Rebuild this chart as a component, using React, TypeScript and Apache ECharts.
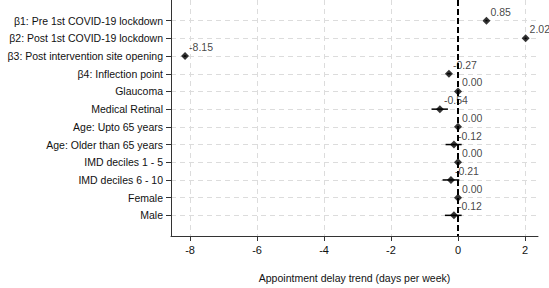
import React, { useEffect, useRef } from "react";
import * as echarts from "echarts";

const categories = [
  "β1: Pre 1st COVID-19 lockdown",
  "β2: Post 1st COVID-19 lockdown",
  "β3: Post intervention site opening",
  "β4: Inflection point",
  "Glaucoma",
  "Medical Retinal",
  "Age: Upto 65 years",
  "Age: Older than 65 years",
  "IMD deciles 1 - 5",
  "IMD deciles 6 - 10",
  "Female",
  "Male",
];
const estimates = [0.85, 2.02, -8.15, -0.27, 0.0, -0.54, 0.0, -0.12, 0.0, -0.21, 0.0, -0.12];
const ciLow = [0.82, 1.99, -8.19, -0.32, 0.0, -0.79, 0.0, -0.37, 0.0, -0.46, 0.0, -0.39];
const ciHigh = [0.88, 2.05, -8.11, -0.22, 0.0, -0.3, 0.0, 0.11, 0.0, 0.04, 0.0, 0.11];
const xTicks = [-8, -6, -4, -2, 0, 2];
const rowTicks = categories.map((_, i) => i + 1);

const FONT = "Liberation Sans, Arial, sans-serif";

export default function App() {
  const ref = useRef<HTMLDivElement>(null);
  useEffect(() => {
    if (!ref.current) return;
    const chart = echarts.init(ref.current, undefined, { renderer: "svg" });
    const pts = estimates.map((v, i) => [v, i + 1]);
    const bars = categories.map((_, i) => [ciLow[i], ciHigh[i], i + 1]);
    chart.setOption({
      animation: false,
      grid: { left: 171, right: 11, top: 0, bottom: 48, containLabel: false },
      xAxis: {
        type: "value",
        min: -8.57,
        max: 2.39,
        name: "Appointment delay trend (days per week)",
        nameLocation: "middle",
        nameGap: 36,
        nameTextStyle: { fontFamily: FONT, fontSize: 10.5, color: "#111" },
        axisLine: { onZero: false, lineStyle: { color: "#333", width: 1 } },
        axisTick: { show: true, length: 5, customValues: xTicks, lineStyle: { color: "#333" } },
        axisLabel: {
          customValues: xTicks,
          fontFamily: FONT,
          fontSize: 11,
          color: "#111",
          margin: 8,
        },
        splitLine: { show: true, lineStyle: { color: "#dcdcdc", type: [5, 4], width: 1 } },
      },
      yAxis: {
        type: "value",
        inverse: true,
        min: -1 / 6,
        max: 12 + 7 / 6,
        axisLine: { show: true, onZero: false, lineStyle: { color: "#333", width: 1 } },
        axisTick: { show: true, length: 5, customValues: rowTicks, lineStyle: { color: "#333" } },
        axisLabel: {
          customValues: rowTicks,
          formatter: (v: number) => categories[Math.round(v) - 1] ?? "",
          fontFamily: FONT,
          fontSize: 10.5,
          color: "#111",
          margin: 8,
        },
        splitLine: { show: true, lineStyle: { color: "#dcdcdc", type: [5, 4], width: 1 } },
      },
      series: [
        {
          type: "custom",
          data: bars,
          renderItem: (params: any, api: any) => {
            const a = api.coord([api.value(0), api.value(2)]);
            const b = api.coord([api.value(1), api.value(2)]);
            return {
              type: "line",
              shape: { x1: a[0], y1: a[1], x2: b[0], y2: b[1] },
              style: { stroke: "#000", lineWidth: 1.5 },
            };
          },
          z: 3,
        },
        {
          type: "scatter",
          data: pts,
          symbol: "diamond",
          symbolSize: 8,
          itemStyle: { color: "#000" },
          z: 4,
          label: {
            show: true,
            position: "right",
            distance: 0,
            offset: [0, -9],
            formatter: (p: any) => p.value[0].toFixed(2),
            fontFamily: FONT,
            fontSize: 10.5,
            color: "#111",
          },
          markLine: {
            silent: true,
            symbol: "none",
            label: { show: false },
            lineStyle: { color: "#000", type: [6, 3], width: 2 },
            data: [{ xAxis: 0 }],
          },
        },
      ],
    });
    return () => chart.dispose();
  }, []);
  return (
    <div
      ref={ref}
      style={{ position: "fixed", left: 0, top: 0, width: 549, height: 288, background: "#fff" }}
    />
  );
}
